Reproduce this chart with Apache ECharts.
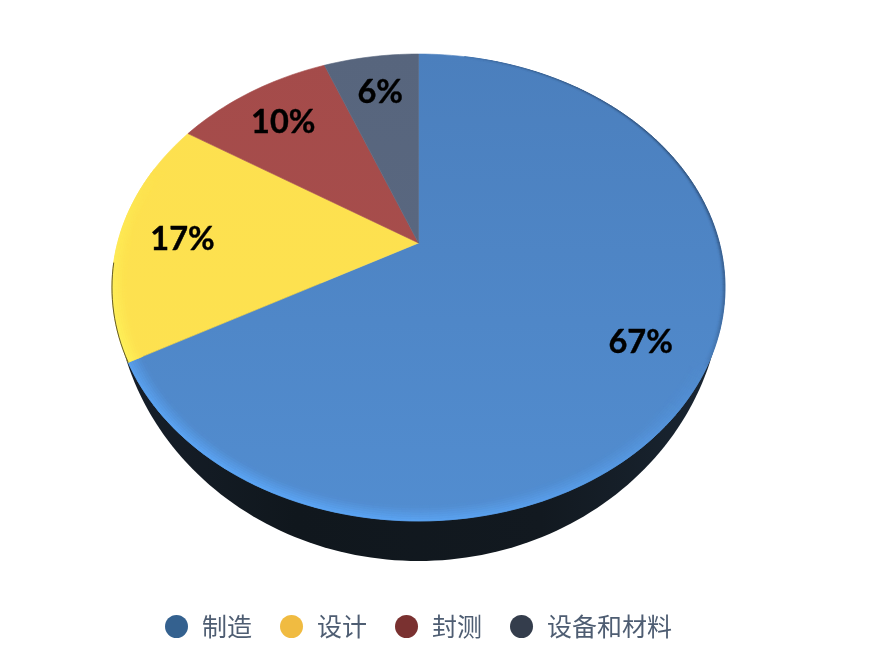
<!DOCTYPE html>
<html><head><meta charset="utf-8">
<style>html,body{margin:0;padding:0;background:#fff}#c{width:894px;height:662px}</style>
<script src="https://cdn.jsdelivr.net/npm/echarts@6/dist/echarts.min.js"></script>
</head><body><div id="c"></div>
<script>
const categories = ['制造', '设计', '封测', '设备和材料'];
const shares = [67, 17, 10, 6];
const legendColors = ['#34618f', '#f0bb41', '#7a3130', '#343d4c'];

const topColors = [['#4b7fbd', '#528dd0'], ['#fde04f', '#fde250'], ['#a44b4a', '#aa504e'], ['#57657d', '#5c6a83']];
const rimLight = ['#5ca6f6', '#fff65c', '#bd5f5a', '#66768f'];
const rimDark = ['#2c486c', '#a58a30', '#6a2e2d', '#3a4558'];

// projective map of the disc onto the page
const cx = 418.5, cy = 243, A = 300.9, B = 225, K = 0.1906;
function proj(theta, r) {
  const d = 1 + K * r * Math.cos(theta);
  return [cx + A * r * Math.sin(theta) / d, cy - B * r * Math.cos(theta) / d];
}
function hex(c) { return [1, 3, 5].map(i => parseInt(c.substr(i, 2), 16)); }
function mix(a, b, t) {
  const p = hex(a), q = hex(b);
  return 'rgb(' + p.map((v, i) => Math.round(v + (q[i] - v) * t)).join(',') + ')';
}
function lerpHex(a, b, t) {
  const p = hex(a), q = hex(b);
  return '#' + p.map((v, i) => Math.round(v + (q[i] - v) * t).toString(16).padStart(2, '0')).join('');
}
const DEG = Math.PI / 180;
const total = shares.reduce((s, v) => s + v, 0);
function sectorRender(index, startShare) {
  return function (params, api) {
    const value = api.value(0);
    const a0 = startShare / total * Math.PI * 2;
    const a1 = (startShare + value) / total * Math.PI * 2;
    const n = Math.max(6, Math.ceil((a1 - a0) / (Math.PI * 2) * 240));
    const LAYERS = 7;
    const children = [];
    const outer = [[cx, cy]];
    for (let i = 0; i <= n; i++) outer.push(proj(a0 + (a1 - a0) * i / n, 1));
    const colors = topColors[index];
    const grad = new echarts.graphic.LinearGradient(0, 54, 0, 521, [
      { offset: 0, color: colors[0] }, { offset: 1, color: colors[1] }], true);
    children.push({
      type: 'polygon', shape: { points: outer },
      style: { fill: grad, stroke: grad, lineWidth: 0.6 }
    });
    const edge = [];
    for (let i = 0; i < n; i++) {
      const t0 = a0 + (a1 - a0) * i / n, t1 = a0 + (a1 - a0) * (i + 1) / n, tm = (t0 + t1) / 2;
      const deg = tm / DEG;
      const bright = Math.abs(deg - 205) < 85 ? Math.pow(Math.cos((deg - 205) * 90 / 85 * DEG), 0.8) : 0;
      const dark = deg > 10 && deg < 120 ? Math.pow(Math.sin((deg - 10) * 180 / 110 * DEG), 0.5) * 0.85 : 0;
      if (deg > 241 && deg < 265) edge.push(proj(t0, 1), proj(t1, 1));
      const strength = Math.max(bright, dark);
      if (strength <= 0.01) continue;
      const rimColor = bright > 0 ? rimLight[index] : rimDark[index];
      const RIM = bright > 0 ? 0.045 : 0.013;
      for (let j = 0; j < LAYERS; j++) {
        const r0 = 1 - RIM * j / LAYERS, r1 = 1 - RIM * (j + 1) / LAYERS;
        const p0 = proj(tm, (r0 + r1) / 2);
        const base = lerpHex(colors[0], colors[1], Math.min(1, Math.max(0, (p0[1] - 54) / 467)));
        const q = 1 - (j + 0.5) / LAYERS;
        const col = mix(base, rimColor, strength * Math.pow(q, 1.1));
        children.push({
          type: 'polygon',
          shape: { points: [proj(t0, r0), proj(t1, r0), proj(t1, r1), proj(t0, r1)] },
          style: { fill: col, stroke: col, lineWidth: 0.6 }
        });
      }
    }
    if (edge.length) {
      children.push({ type: 'polyline', shape: { points: edge },
        style: { fill: null, stroke: '#3b3420', lineWidth: 0.8 } });
    }
    return { type: 'group', children };
  };
}
function labelRender(startShare) {
  return function (params, api) {
    const value = api.value(0);
    const p = proj((startShare + value / 2) / total * Math.PI * 2, 0.79);
    return {
      type: 'text',
      style: { text: value + '%', x: p[0] + 0.5, y: p[1] + 2, align: 'center', verticalAlign: 'middle',
        font: 'bold 32.5px Lato, "Noto Sans CJK SC", sans-serif', fill: '#000', stroke: '#000', lineWidth: 0.4 }
    };
  };
}
function sideRender() {
  const pts = [];
  for (let i = 0; i <= 120; i++) {
    const t = i / 120 * Math.PI;
    pts.push([418.5 + 304 * Math.cos(t), 283 + 278 * Math.sin(t)]);
  }
  return {
    type: 'polygon', shape: { points: pts },
    style: { fill: new echarts.graphic.LinearGradient(112, 0, 725, 0, [
      { offset: 0, color: '#161f2a' }, { offset: 0.3, color: '#10171d' },
      { offset: 0.7, color: '#121920' }, { offset: 1, color: '#1a2633' }], true) }
  };
}
const series = [{ type: 'custom', name: 'side', coordinateSystem: 'none', silent: true, z: 1,
  data: [[0]], renderItem: sideRender }];
let running = 0;
const starts = [];
shares.forEach((v, i) => {
  starts.push(running);
  series.push({ type: 'custom', name: categories[i], coordinateSystem: 'none', silent: true, z: 2,
    itemStyle: { color: legendColors[i] }, data: [[v]], renderItem: sectorRender(i, running) });
  running += v;
});
shares.forEach((v, i) => {
  series.push({ type: 'custom', name: 'label' + i, coordinateSystem: 'none', silent: true, z: 3,
    data: [[v]], renderItem: labelRender(starts[i]) });
});
const chart = echarts.init(document.getElementById('c'), null, { renderer: 'canvas' });
chart.setOption({
  animation: false,
  backgroundColor: '#fff',
  legend: {
    data: categories.map(name => ({ name, icon: 'circle' })),
    left: 165, top: 614, padding: 0, itemWidth: 23, itemHeight: 23, itemGap: 28,
    selectedMode: false,
    textStyle: { fontSize: 25, color: '#4e5d72', fontFamily: '"Noto Sans CJK SC", sans-serif', padding: [0, 0, 0, 9] }
  },
  series
});
</script></body></html>
